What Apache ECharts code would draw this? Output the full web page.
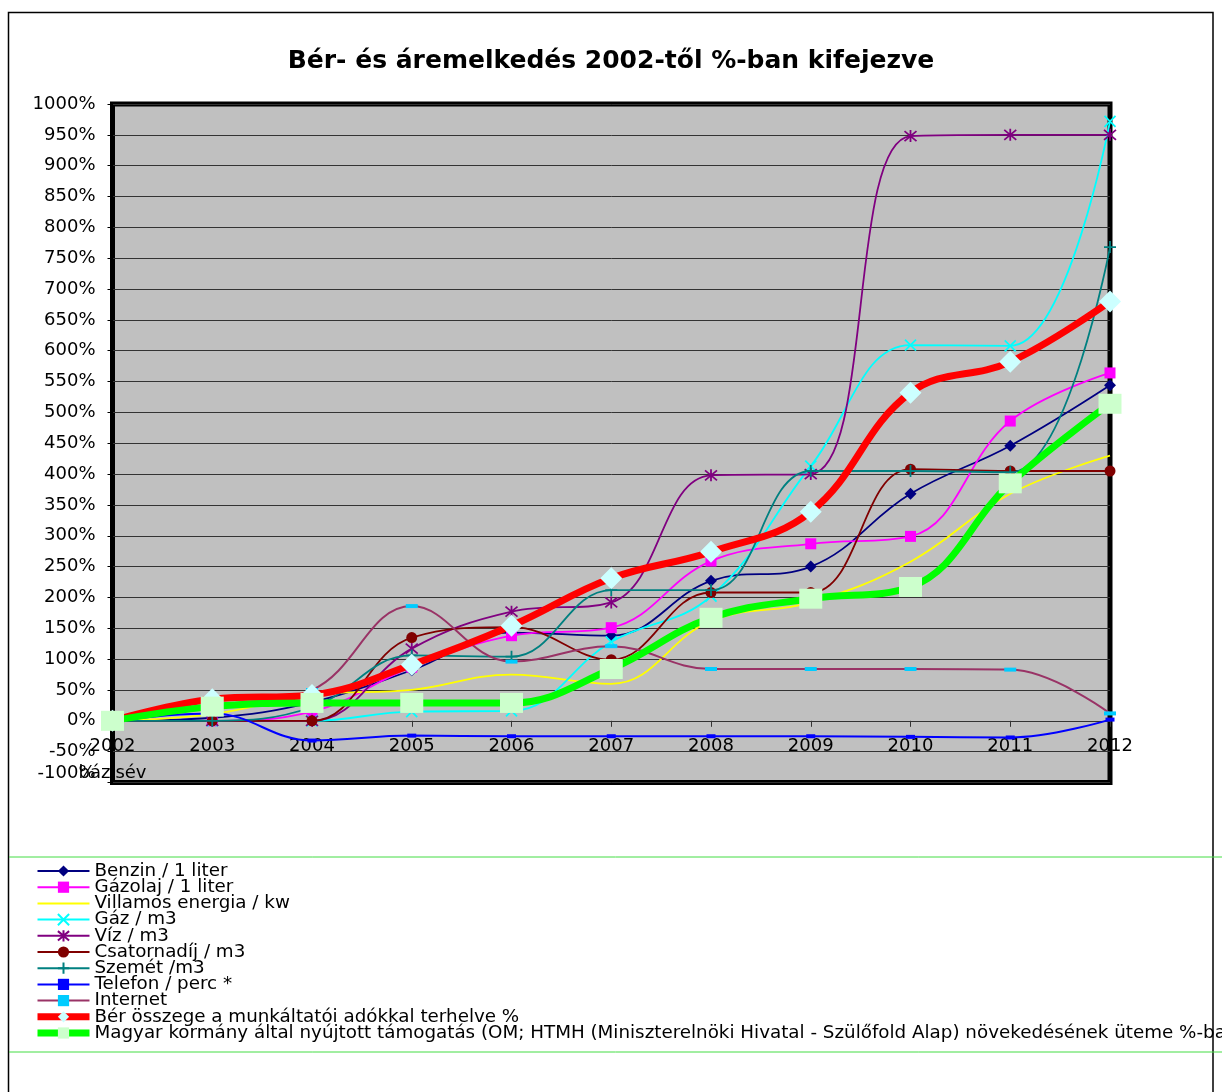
<!DOCTYPE html>
<html>
<head>
<meta charset="utf-8">
<script src="https://cdn.jsdelivr.net/npm/echarts@6.0.0/dist/echarts.min.js"></script>
<style>
html,body{margin:0;padding:0;background:#fff;}
#chart{width:1222px;height:1092px;}
</style>
</head>
<body>
<div id="chart"></div>
<script>
// ---- data ----
var years = ['2002','2003','2004','2005','2006','2007','2008','2009','2010','2011','2012'];
var benzin   = [0, 5, 30, 82, 143, 138, 227, 250, 368, 446, 544];
var gazolaj  = [0, 0, 15, 87, 138, 151, 259, 287, 299, 486, 564];
var villamos = [0, 11, 42, 50, 75, 60, 162, 192, 258, 368, 430];
var gaz      = [0, 0, 0, 15, 16, 128, 202, 413, 609, 608, 972];
var viz      = [0, 0, 0, 117, 177, 192, 398, 400, 948, 950, 950];
var csatorna = [0, 0, 0, 135, 152, 99, 208, 208, 408, 405, 405];
var szemet   = [0, 0, 22, 106, 104, 212, 212, 405, 405, 403, 768];
var telefon  = [0, 12, -32, -24, -25, -25, -25, -25, -26, -27, 2];
var internet = [0, 25, 50, 186, 96, 121, 84, 84, 84, 83, 12];
var ber      = [0, 35, 42, 91, 154, 231, 274, 339, 532, 582, 680];
var magyar   = [0, 23, 29, 29, 29, 84, 167, 198, 217, 385, 514];
var seriesNames = [
  'Benzin / 1 liter',
  'Gázolaj / 1 liter',
  'Villamos energia / kw',
  'Gáz / m3',
  'Víz / m3',
  'Csatornadíj / m3',
  'Szemét /m3',
  'Telefon / perc *',
  'Internet',
  'Bér összege a munkáltatói adókkal terhelve %',
  'Magyar kormány által nyújtott támogatás (OM; HTMH (Miniszterelnöki Hivatal - Szülőfold Alap) növekedésének üteme %-ban'
];
var titleText = 'Bér- és áremelkedés 2002-től %-ban kifejezve';
var baseYearLabel = 'bázisév';

var FONT = 'DejaVu Sans';
var SMOOTH = 0.4;
var X_PATH = 'path://M0,0L10,10M10,0L0,10';
var STAR_PATH = 'path://M0,0L10,10M10,0L0,10M5,-1L5,11';
var PLUS_PATH = 'path://M5,0L5,10M0,5L10,5';

var Y_MIN = -100, Y_MAX = 1000;
var GRID_TOP = 104, GRID_BOTTOM_Y = 782.5;
var zeroOffset = -(GRID_BOTTOM_Y - GRID_TOP) * (0 - Y_MIN) / (Y_MAX - Y_MIN);

function mk(name, data, lineColor, lineWidth, symbol, symbolSize, markColor, strokeMark) {
  return {
    name: name,
    type: 'line',
    data: data,
    smooth: SMOOTH,
    showAllSymbol: true,
    symbol: symbol,
    symbolSize: symbolSize,
    lineStyle: { color: lineColor, width: lineWidth },
    itemStyle: { color: markColor, borderColor: markColor, borderWidth: strokeMark ? 1.8 : 0 },
    emphasis: { disabled: true }
  };
}

var series = [
  mk(seriesNames[0], benzin,   '#000080', 1.8, 'diamond', 12, '#000080', false),
  mk(seriesNames[1], gazolaj,  '#FF00FF', 1.8, 'rect', 11, '#FF00FF', false),
  mk(seriesNames[2], villamos, '#FFFF00', 1.8, 'none', 0, '#FFFF00', false),
  mk(seriesNames[3], gaz,      '#00FFFF', 1.8, X_PATH, 11, '#00FFFF', true),
  mk(seriesNames[4], viz,      '#800080', 1.8, STAR_PATH, 12, '#800080', true),
  mk(seriesNames[5], csatorna, '#800000', 1.8, 'circle', 11, '#800000', false),
  mk(seriesNames[6], szemet,   '#008080', 1.8, PLUS_PATH, 12, '#008080', true),
  mk(seriesNames[7], telefon,  '#0000FF', 2, 'rect', [9, 4], '#0000FF', false),
  mk(seriesNames[8], internet, '#993366', 2, 'rect', [12, 4], '#00CCFF', false),
  mk(seriesNames[9], ber,      '#FF0000', 7, 'diamond', 22, '#CCFFFF', false),
  mk(seriesNames[10], magyar,  '#00FF00', 7, 'rect', [23, 20], '#CCFFCC', false)
];

var legendData = seriesNames.map(function (n, i) {
  var d = { name: n };
  if (i === 2) d.itemStyle = { opacity: 0 };
  if (i === 9 || i === 10) d.lineStyle = { width: 7 };
  return d;
});

var chart = echarts.init(document.getElementById('chart'), null, { renderer: 'canvas' });
chart.setOption({
  animation: false,
  backgroundColor: '#ffffff',
  title: {
    text: titleText,
    left: 'center',
    top: 44,
    textStyle: { fontFamily: FONT, fontWeight: 'bold', fontSize: 25, color: '#000' }
  },
  graphic: [
    { type: 'rect', shape: { x: 8.5, y: 12.5, width: 1204.5, height: 1200 },
      style: { fill: 'none', stroke: '#000', lineWidth: 1.5 }, z: 0, silent: true },
    { type: 'line', shape: { x1: 9, y1: 857, x2: 1222, y2: 857 },
      style: { stroke: '#44DD44', lineWidth: 1 }, silent: true },
    { type: 'line', shape: { x1: 9, y1: 1052, x2: 1222, y2: 1052 },
      style: { stroke: '#44DD44', lineWidth: 1 }, silent: true }
  ],
  legend: {
    orient: 'vertical',
    left: 34,
    top: 862,
    padding: 0,
    itemWidth: 52,
    itemHeight: 14,
    itemGap: -1.8,
    data: legendData,
    textStyle: { fontFamily: FONT, fontSize: 18.3, lineHeight: 14, color: '#000' }
  },
  grid: {
    left: 112.5,
    right: 112,
    top: GRID_TOP,
    bottom: 1092 - GRID_BOTTOM_Y,
    show: true,
    backgroundColor: '#C0C0C0',
    borderColor: '#000',
    borderWidth: 5,
    containLabel: false,
    outerBoundsMode: 'none'
  },
  xAxis: {
    type: 'category',
    data: years,
    boundaryGap: false,
    offset: zeroOffset,
    axisLine: { show: true, onZero: false, lineStyle: { color: '#333', width: 1 } },
    axisTick: { show: true, inside: false, length: 6, alignWithLabel: true, lineStyle: { color: '#333' } },
    axisLabel: {
      interval: 0,
      margin: 12,
      fontFamily: FONT,
      fontSize: 18,
      lineHeight: 27,
      color: '#000',
      formatter: function (v) { return v === years[0] ? v + '\n' + baseYearLabel : v; }
    },
    splitLine: { show: false }
  },
  yAxis: {
    type: 'value',
    min: Y_MIN,
    max: Y_MAX,
    interval: 50,
    axisLine: { show: true, lineStyle: { color: '#000', width: 1 } },
    axisTick: { show: true, length: 5, lineStyle: { color: '#000' } },
    axisLabel: {
      margin: 17,
      fontFamily: FONT,
      fontSize: 18,
      color: '#000',
      verticalAlignMinLabel: 'bottom',
      formatter: function (v) { return v + '%'; }
    },
    splitLine: { show: true, lineStyle: { color: '#333', width: 1 } }
  },
  series: series
});
</script>
</body>
</html>
